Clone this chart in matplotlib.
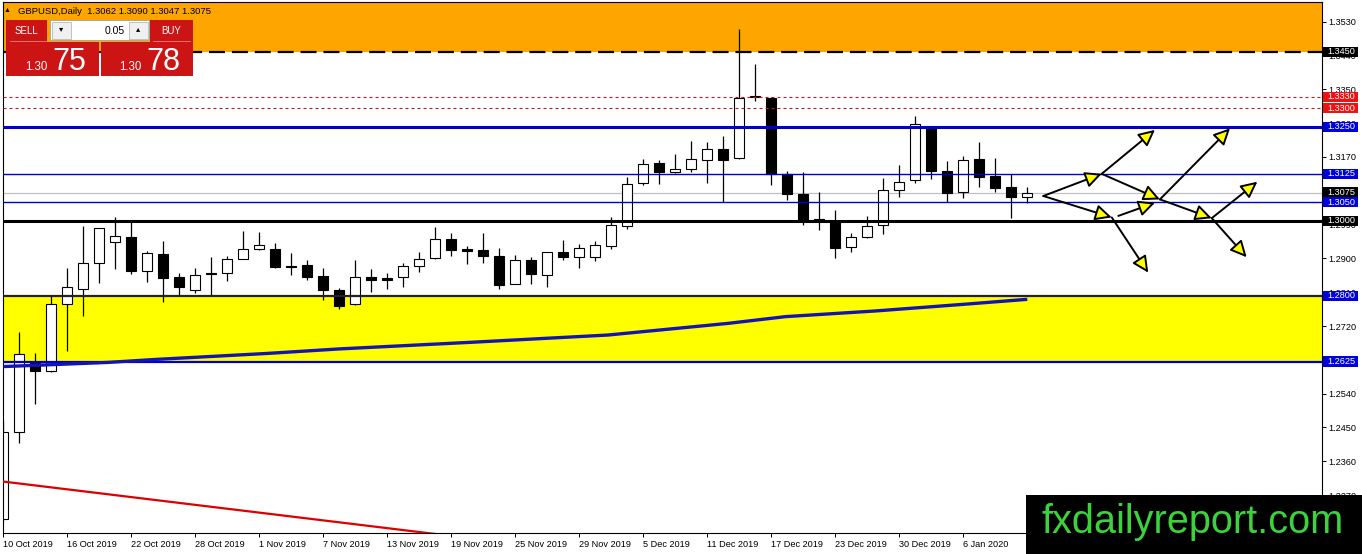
import matplotlib
matplotlib.use('Agg')
import matplotlib.pyplot as plt
import matplotlib.transforms as mtransforms
from matplotlib.patches import Rectangle, FancyArrowPatch

plt.rcParams['font.family'] = ['Liberation Sans', 'DejaVu Sans']

# GBPUSD daily candles, 10 Oct 2019 .. 10 Jan 2020
opens = [1.2206, 1.2437, 1.2622, 1.2601, 1.2778, 1.2819, 1.2887, 1.2944, 1.2957, 1.2867,
         1.2912, 1.2850, 1.2815, 1.2862, 1.2860, 1.2898, 1.2924, 1.2924, 1.2880, 1.2882,
         1.2852, 1.2815, 1.2778, 1.2850, 1.2848, 1.2850, 1.2879, 1.2900, 1.2952, 1.2926,
         1.2922, 1.2906, 1.2833, 1.2896, 1.2857, 1.2916, 1.2904, 1.2904, 1.2934, 1.2987,
         1.3100, 1.3153, 1.3131, 1.3137, 1.3161, 1.3190, 1.3167, 1.3333, 1.3328, 1.3124,
         1.3072, 1.3005, 1.3000, 1.2930, 1.2956, 1.2988, 1.3081, 1.3108, 1.3249, 1.3132,
         1.3077, 1.3164, 1.3119, 1.3089, 1.3062]
highs = [1.2468, 1.2703, 1.2648, 1.2800, 1.2874, 1.2986, 1.2982, 1.3010, 1.2999, 1.2920,
         1.2945, 1.2861, 1.2874, 1.2903, 1.2906, 1.2973, 1.2970, 1.2941, 1.2914, 1.2895,
         1.2874, 1.2820, 1.2895, 1.2872, 1.2861, 1.2887, 1.2917, 1.2984, 1.2968, 1.2933,
         1.2968, 1.2928, 1.2910, 1.2904, 1.2917, 1.2949, 1.2938, 1.2946, 1.3009, 1.3117,
         1.3164, 1.3162, 1.3178, 1.3212, 1.3210, 1.3225, 1.3510, 1.3417, 1.3330, 1.3132,
         1.3129, 1.3076, 1.3028, 1.2967, 1.3012, 1.3113, 1.3148, 1.3280, 1.3250, 1.3158,
         1.3172, 1.3209, 1.3167, 1.3125, 1.3090]
lows = [1.2200, 1.2409, 1.2512, 1.2598, 1.2653, 1.2747, 1.2835, 1.2872, 1.2858, 1.2838,
        1.2785, 1.2801, 1.2809, 1.2801, 1.2840, 1.2897, 1.2923, 1.2874, 1.2857, 1.2842,
        1.2790, 1.2766, 1.2776, 1.2811, 1.2818, 1.2823, 1.2865, 1.2899, 1.2907, 1.2886,
        1.2888, 1.2819, 1.2832, 1.2833, 1.2825, 1.2896, 1.2875, 1.2894, 1.2925, 1.2979,
        1.3095, 1.3097, 1.3128, 1.3129, 1.3101, 1.3050, 1.3165, 1.3318, 1.3096, 1.3056,
        1.2988, 1.2975, 1.2902, 1.2918, 1.2955, 1.2966, 1.3064, 1.3101, 1.3112, 1.3050,
        1.3061, 1.3091, 1.3077, 1.3008, 1.3047]
closes = [1.2439, 1.2646, 1.2601, 1.2778, 1.2823, 1.2887, 1.2980, 1.2959, 1.2867, 1.2913,
          1.2849, 1.2825, 1.2855, 1.2858, 1.2898, 1.2924, 1.2935, 1.2878, 1.2878, 1.2851,
          1.2815, 1.2774, 1.2850, 1.2842, 1.2843, 1.2879, 1.2898, 1.2951, 1.2923, 1.2920,
          1.2907, 1.2830, 1.2895, 1.2858, 1.2916, 1.2904, 1.2928, 1.2935, 1.2988, 1.3097,
          1.3151, 1.3131, 1.3137, 1.3164, 1.3190, 1.3163, 1.3326, 1.3329, 1.3125, 1.3072,
          1.3000, 1.3000, 1.2928, 1.2956, 1.2987, 1.3081, 1.3104, 1.3258, 1.3133, 1.3075,
          1.3161, 1.3116, 1.3088, 1.3062, 1.3075]

date_bars = [0, 4, 8, 12, 16, 20, 24, 28, 32, 36, 40, 44, 48, 52, 56, 60]
date_labels = ['10 Oct 2019', '16 Oct 2019', '22 Oct 2019', '28 Oct 2019', '1 Nov 2019',
               '7 Nov 2019', '13 Nov 2019', '19 Nov 2019', '25 Nov 2019', '29 Nov 2019',
               '5 Dec 2019', '11 Dec 2019', '17 Dec 2019', '23 Dec 2019', '30 Dec 2019',
               '6 Jan 2020']
price_ticks = [1.3530, 1.3440, 1.3350, 1.3260, 1.3170, 1.3080, 1.2990, 1.2900, 1.2810,
               1.2720, 1.2630, 1.2540, 1.2450, 1.2360, 1.2270]

# moving average (blue) and old down trendline (red)
ma_bars = [0, 6.5, 9.5, 16.5, 21, 29.4, 37.8, 45.3, 48.9, 54.5, 60.1, 64]
ma_vals = [1.2612, 1.2623, 1.2631, 1.2647, 1.2659, 1.2677, 1.2696, 1.2727, 1.2745, 1.2760,
           1.2778, 1.2791]
trend_bars = [-0.2, 30]
trend_vals = [1.2307, 1.2151]

# zones / levels
resist_zone = 1.3450
support_zone = [1.2625, 1.2800]
red_levels = [1.3330, 1.3300]
blue_thick = 1.3250
blue_thin = [1.3125, 1.3050]
blue_low = 1.2625
black_level = 1.3000
zone_edge = 1.2800
bid = 1.3075

# scenario arrows: (bar0, price0, bar1, price1)
arrows = [(65.0, 1.3066, 68.65, 1.3125),
          (68.65, 1.3125, 71.98, 1.3242),
          (68.65, 1.3125, 72.29, 1.3057),
          (65.0, 1.3066, 69.28, 1.3009),
          (69.28, 1.3009, 71.56, 1.2862),
          (69.69, 1.3013, 71.98, 1.3048),
          (72.29, 1.3057, 76.67, 1.3246),
          (72.29, 1.3057, 75.53, 1.3007),
          (75.53, 1.3007, 78.38, 1.3104),
          (75.53, 1.3007, 77.71, 1.2903)]

# right-axis price boxes
label_prices = [1.3450, 1.3330, 1.3300, 1.3250, 1.3125, 1.3075, 1.3050, 1.3000, 1.2800, 1.2625]
label_colors = ['black', '#EE1111', '#EE1111', '#0000DD', '#0000DD', 'black', '#0000DD',
                'black', '#0000DD', '#0000DD']

BLUE = '#0000CD'
W, H = 1362, 554
fig = plt.figure(figsize=(W / 100, H / 100), dpi=100)
ax_l, ax_r, ax_t, ax_b = 2.7, 1322, 1.7, 533.3
ax = fig.add_axes([ax_l / W, (H - ax_b) / H, (ax_r - ax_l) / W, (ax_b - ax_t) / H])
ax.set_xlim(-0.04, 82.42)
ax.set_ylim(1.21683, 1.35831)

ax.axhspan(resist_zone, 1.40, color='#FFA500', zorder=0, lw=0)
ax.axhspan(support_zone[0], support_zone[1], color='#FFFF00', zorder=0, lw=0)

# candles
n = len(opens)
xs = list(range(n))
ax.vlines(xs, lows, highs, color='black', lw=0.9, zorder=2)
bottoms = [min(o, c) for o, c in zip(opens, closes)]
heights = [max(abs(c - o), 0.00004) for o, c in zip(opens, closes)]
fills = ['white' if c >= o else 'black' for o, c in zip(opens, closes)]
ax.bar(xs, heights, 0.64, bottom=bottoms, color=fills, edgecolor='black', lw=0.8, zorder=2.5)

# levels
ax.axhline(resist_zone, color='black', lw=1.6, ls=(0, (7.2, 3.1)), zorder=3)
for p in red_levels:
    ax.axhline(p, color='#B22222', lw=0.8, ls=(0, (2.7, 2.7)), zorder=3)
ax.axhline(blue_thick, color=BLUE, lw=2.2, zorder=3)
for p in blue_thin:
    ax.axhline(p, color=BLUE, lw=1.0, zorder=3)
ax.axhline(bid, color='#C0C0C0', lw=0.9, zorder=1.5)
ax.axhline(black_level, color='black', lw=2.2, zorder=3)
ax.axhline(zone_edge, color='#222222', lw=1.6, zorder=3)
ax.axhline(blue_low, color=BLUE, lw=1.6, zorder=3)

ax.plot(ma_bars, ma_vals, color='#1414B4', lw=2.4, zorder=3, solid_capstyle='butt')
ax.plot(trend_bars, trend_vals, color='#DD0000', lw=1.6, zorder=3)

for x0, y0, x1, y1 in arrows:
    ax.add_patch(FancyArrowPatch((x0, y0), (x1, y1),
                                 arrowstyle='-|>,head_length=0.45,head_width=0.22',
                                 mutation_scale=22, fc='#FFFF00', ec='black', lw=1.4,
                                 shrinkA=0, shrinkB=0, zorder=5))

# axes styling
for s in ax.spines.values():
    s.set_linewidth(0.8)
ax.yaxis.tick_right()
ax.set_yticks(price_ticks)
ax.set_yticklabels(['%.4f' % v for v in price_ticks])
ax.tick_params(axis='y', length=3, width=0.7, pad=1.6, labelsize=6.6)
ax.set_xticks(date_bars)
ax.set_xticklabels(date_labels, ha='left')
ax.tick_params(axis='x', length=3, width=0.7, pad=1.6, labelsize=6.6)

trans = mtransforms.blended_transform_factory(ax.transAxes, ax.transData)
axw = ax_r - ax_l
ppu = (ax_b - ax_t) / (1.35831 - 1.21683)
for p, col in zip(label_prices, label_colors):
    ax.add_patch(Rectangle((1.0 + 0.5 / axw, p - 5.2 / ppu), 35 / axw, 10.4 / ppu,
                           transform=trans, clip_on=False, fc=col, ec='none', zorder=6))
    ax.text(1.0 + 5.0 / axw, p, '%.4f' % p, transform=trans, color='white', fontsize=6.6,
            va='center', ha='left', zorder=7, clip_on=False)

# overlay: header, trading panel, watermark (pixel coordinates)
ov = fig.add_axes([0, 0, 1, 1])
ov.set_xlim(0, W)
ov.set_ylim(H, 0)
ov.axis('off')
ov.set_zorder(10)

ov.text(7, 11, '\u25b2', fontsize=5, va='center', ha='center')
ov.text(18, 11, 'GBPUSD,Daily  1.3062 1.3090 1.3047 1.3075', fontsize=6.8, va='center')

red = '#CC1414'
ov.add_patch(Rectangle((6, 20), 41, 22, fc=red, ec='none'))
ov.add_patch(Rectangle((150, 20), 43, 22, fc=red, ec='none'))
ov.text(26.5, 31, 'SELL', color='white', fontsize=7, ha='center', va='center')
ov.text(171.5, 31, 'BUY', color='white', fontsize=7, ha='center', va='center')
ov.plot([10, 46], [41, 41], color='#E88080', lw=0.6)
ov.plot([153, 190], [41, 41], color='#E88080', lw=0.6)
ov.add_patch(Rectangle((50, 20), 99, 20, fc='white', ec='#A8A8A8', lw=0.7))
ov.add_patch(Rectangle((52, 21.5), 19, 17, fc='#F0F0F0', ec='#B8B8B8', lw=0.6))
ov.add_patch(Rectangle((129, 21.5), 19, 17, fc='#F0F0F0', ec='#B8B8B8', lw=0.6))
ov.text(61.5, 30, '\u25be', fontsize=6, ha='center', va='center')
ov.text(138.5, 30, '\u25b4', fontsize=6, ha='center', va='center')
ov.text(125, 30.5, '0.05', fontsize=7.5, ha='right', va='center')
ov.add_patch(Rectangle((6, 42), 93, 34, fc=red, ec='none'))
ov.add_patch(Rectangle((101, 42), 92, 34, fc=red, ec='none'))
ov.text(48, 70, '1.30', color='white', fontsize=8.3, ha='right', va='baseline')
ov.text(52, 70, '75', color='white', fontsize=22, ha='left', va='baseline')
ov.text(142, 70, '1.30', color='white', fontsize=8.3, ha='right', va='baseline')
ov.text(146, 70, '78', color='white', fontsize=22, ha='left', va='baseline')

ov.add_patch(Rectangle((1026, 495), W - 1026, H - 495, fc='black', ec='none'))
ov.text(1041, 533, 'fxdailyreport.com', color='#3CD23C', fontsize=28.6, va='baseline')

fig.savefig('out.png', dpi=100)
